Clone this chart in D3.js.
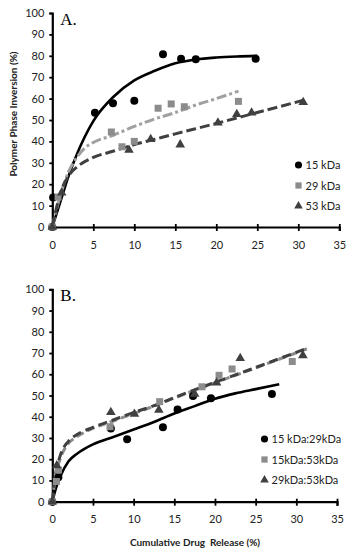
<!DOCTYPE html>
<html>
<head>
<meta charset="utf-8">
<script src="https://cdn.jsdelivr.net/npm/d3@7"></script>
<style>
  body { margin: 0; background: #fff; }
  text { font-family: Lato, "Open Sans", sans-serif; }
</style>
</head>
<body>
<div id="chart"></div>
<script>
// data
var xTicks = [0, 5, 10, 15, 20, 25, 30, 35];
var yTicks = [0, 10, 20, 30, 40, 50, 60, 70, 80, 90, 100];

// panel A
var namesA = ["15 kDa", "29 kDa", "53 kDa"];
var a15x = [0, 0.1, 5.2, 7.4, 10, 13.5, 15.7, 17.5, 24.8];
var a15y = [0, 13.8, 53.4, 57.8, 59, 80.7, 78.6, 78.4, 78.6];
var a29x = [0, 0.7, 7.2, 8.5, 10, 12.9, 14.5, 16.1, 22.7];
var a29y = [0, 14, 44.4, 37.5, 40, 55.5, 57.5, 56.2, 58.7];
var a53x = [0, 1.15, 9.35, 12, 15.6, 20.2, 22.5, 24.3, 30.6];
var a53y = [0, 16, 36, 41, 38.5, 48.7, 52.7, 53.4, 58.3];
// trend lines
var a15tx = [0, 0.5, 1, 2, 3, 5, 7.5, 10, 12.5, 15, 17.5, 20, 22.5, 25];
var a15ty = [0, 6, 12, 24, 34, 49.5, 61, 68.5, 73, 76.5, 78.3, 79.2, 79.7, 80];
var a29tx = [0, 1, 2, 3, 4, 5, 7.5, 10, 12.5, 15, 17.5, 20, 22.7];
var a29ty = [0, 15, 26, 32.5, 37, 39.5, 43, 47, 50.5, 53.5, 57, 60, 63.5];
var a53tx = [0, 1, 2, 3, 5, 7.5, 10, 12.5, 15, 20, 25, 30.9];
var a53ty = [0, 16, 24, 28, 32.5, 35.5, 38.5, 41, 43.5, 48.4, 53.5, 59.5];

// panel B
var namesB = ["15 kDa:29kDa", "15kDa:53kDa", "29kDa:53kDa"];
var b1x = [0, 0.75, 7.2, 9.2, 13.6, 15.4, 17.3, 19.5, 27];
var b1y = [0, 11.5, 34.5, 29.4, 35, 43.4, 49.8, 48.7, 50.7];
var b2x = [0, 0.5, 0.75, 7.1, 13.2, 18.4, 20.5, 22.1, 29.5];
var b2y = [0, 9.5, 14.9, 35.3, 47.1, 54.1, 59.5, 62.5, 66];
var b3x = [0, 0.55, 7.2, 10.1, 13.1, 17.5, 20.2, 23.1, 30.8];
var b3y = [0, 17, 42.1, 41.3, 43.2, 50.7, 56, 67.5, 68.9];
var b1tx = [0, 0.5, 1, 2, 3, 4, 5, 7.5, 10, 12.5, 15, 17.5, 20, 22.5, 25, 27.9];
var b1ty = [0, 7, 12, 19, 22.5, 25, 27, 30.5, 34, 37.5, 41.5, 45, 48.5, 51, 53, 55.3];
var b2tx = [0, 0.4, 1, 2, 3, 5, 7.5, 10, 12.5, 15, 20, 25, 31.3];
var b2ty = [0, 12, 20.5, 27.5, 30.5, 34.5, 38, 41.5, 45, 48.8, 56, 63, 72];
var b3tx = [0, 0.4, 1, 2, 3, 5, 7.5, 10, 12.5, 15, 20, 25, 31.3];
var b3ty = [0, 13, 22, 28.5, 31.5, 35, 38.5, 42, 45.2, 49, 56.2, 63.2, 72.2];

var svg = d3.select('#chart').append('svg')
  .attr('width', 348)
  .attr('height', 551);

function zip(xs, ys) {
  return xs.map(function (x, i) { return [x, ys[i]]; });
}

function drawPanel(opt) {
  var x = d3.scaleLinear().domain([0, 35]).range([opt.left, opt.right]);
  var y = d3.scaleLinear().domain([0, 100]).range([opt.bottom, opt.top]);
  var g = svg.append('g');

  // y axis
  var yAxis = g.append('g')
    .attr('transform', 'translate(' + opt.left + ',0)')
    .call(d3.axisLeft(y).tickValues(yTicks).tickSize(3).tickPadding(5));
  // x axis
  var xAxis = g.append('g')
    .attr('transform', 'translate(0,' + opt.bottom + ')')
    .call(d3.axisBottom(x).tickValues(xTicks).tickSize(4).tickPadding(10));
  [yAxis, xAxis].forEach(function (ax) {
    ax.select('.domain').attr('stroke', '#000').attr('stroke-width', 2.2);
    ax.selectAll('.tick line').attr('stroke', '#000').attr('stroke-width', 1.8);
    ax.selectAll('.tick text')
      .attr('fill', '#222')
      .style('font-family', 'Lato, sans-serif')
      .style('font-size', '11px');
  });
  xAxis.selectAll('.tick line').attr('y1', -3);

  // trend lines
  var line = d3.line()
    .x(function (d) { return x(d[0]); })
    .y(function (d) { return y(d[1]); })
    .curve(d3.curveMonotoneX);
  opt.trends.forEach(function (t) {
    g.append('path')
      .datum(zip(t.xs, t.ys))
      .attr('d', line)
      .attr('fill', 'none')
      .attr('stroke', t.color)
      .attr('stroke-width', t.width)
      .attr('stroke-dasharray', t.dash);
  });

  // markers
  opt.series.forEach(function (s) {
    g.append('g').selectAll('path')
      .data(zip(s.xs, s.ys))
      .enter().append('path')
      .attr('transform', function (d) { return 'translate(' + x(d[0]) + ',' + y(d[1]) + ')'; })
      .attr('d', d3.symbol().type(s.symbol).size(s.size))
      .attr('fill', s.color);
  });

  // legend
  opt.series.forEach(function (s, i) {
    var ly = opt.legendY + i * 20.5;
    g.append('path')
      .attr('transform', 'translate(' + opt.legendX + ',' + ly + ')')
      .attr('d', d3.symbol().type(s.symbol).size(s.size * 0.8))
      .attr('fill', s.color);
    g.append('text')
      .attr('x', opt.legendX + 7)
      .attr('y', ly + 4)
      .attr('fill', '#222')
      .style('font-size', '11px')
      .text(s.name);
  });

  // panel letter
  g.append('text')
    .attr('x', opt.left + 8)
    .attr('y', opt.top + 12)
    .style('font-family', '"Liberation Serif", serif')
    .style('font-size', '17px')
    .text(opt.letter);
}

drawPanel({
  left: 52.3, right: 339.3, top: 13, bottom: 227,
  letter: 'A.', legendX: 298.5, legendY: 165,
  trends: [
    { xs: a15tx, ys: a15ty, color: '#000', width: 2.6, dash: null },
    { xs: a29tx, ys: a29ty, color: '#a0a0a0', width: 3, dash: '10,3,3,3' },
    { xs: a53tx, ys: a53ty, color: '#404040', width: 3, dash: '10,4' }
  ],
  series: [
    { name: namesA[0], xs: a15x, ys: a15y, symbol: d3.symbolCircle, size: 50, color: '#000' },
    { name: namesA[1], xs: a29x, ys: a29y, symbol: d3.symbolSquare, size: 49, color: '#8c8c8c' },
    { name: namesA[2], xs: a53x, ys: a53y, symbol: d3.symbolTriangle, size: 40, color: '#404040' }
  ]
});

drawPanel({
  left: 52.3, right: 337, top: 289.3, bottom: 501.7,
  letter: 'B.', legendX: 264.5, legendY: 439,
  trends: [
    { xs: b1tx, ys: b1ty, color: '#000', width: 2.6, dash: null },
    { xs: b2tx, ys: b2ty, color: '#8c8c8c', width: 3, dash: '8,4' },
    { xs: b3tx, ys: b3ty, color: '#404040', width: 3, dash: '9,5' }
  ],
  series: [
    { name: namesB[0], xs: b1x, ys: b1y, symbol: d3.symbolCircle, size: 50, color: '#000' },
    { name: namesB[1], xs: b2x, ys: b2y, symbol: d3.symbolSquare, size: 49, color: '#8c8c8c' },
    { name: namesB[2], xs: b3x, ys: b3y, symbol: d3.symbolTriangle, size: 40, color: '#404040' }
  ]
});

// axis titles
svg.append('text')
  .attr('transform', 'translate(17,114) rotate(-90)')
  .attr('text-anchor', 'middle')
  .style('font-size', '10px')
  .style('font-weight', 'bold')
  .attr('fill', '#222')
  .text('Polymer Phase Inversion (%)');

svg.append('text')
  .attr('x', 195)
  .attr('y', 546)
  .attr('text-anchor', 'middle')
  .style('font-size', '10px')
  .style('font-weight', 'bold')
  .attr('fill', '#222')
  .attr('xml:space', 'preserve')
  .style('white-space', 'pre')
  .text('Cumulative Drug  Release (%)');
</script>
</body>
</html>
